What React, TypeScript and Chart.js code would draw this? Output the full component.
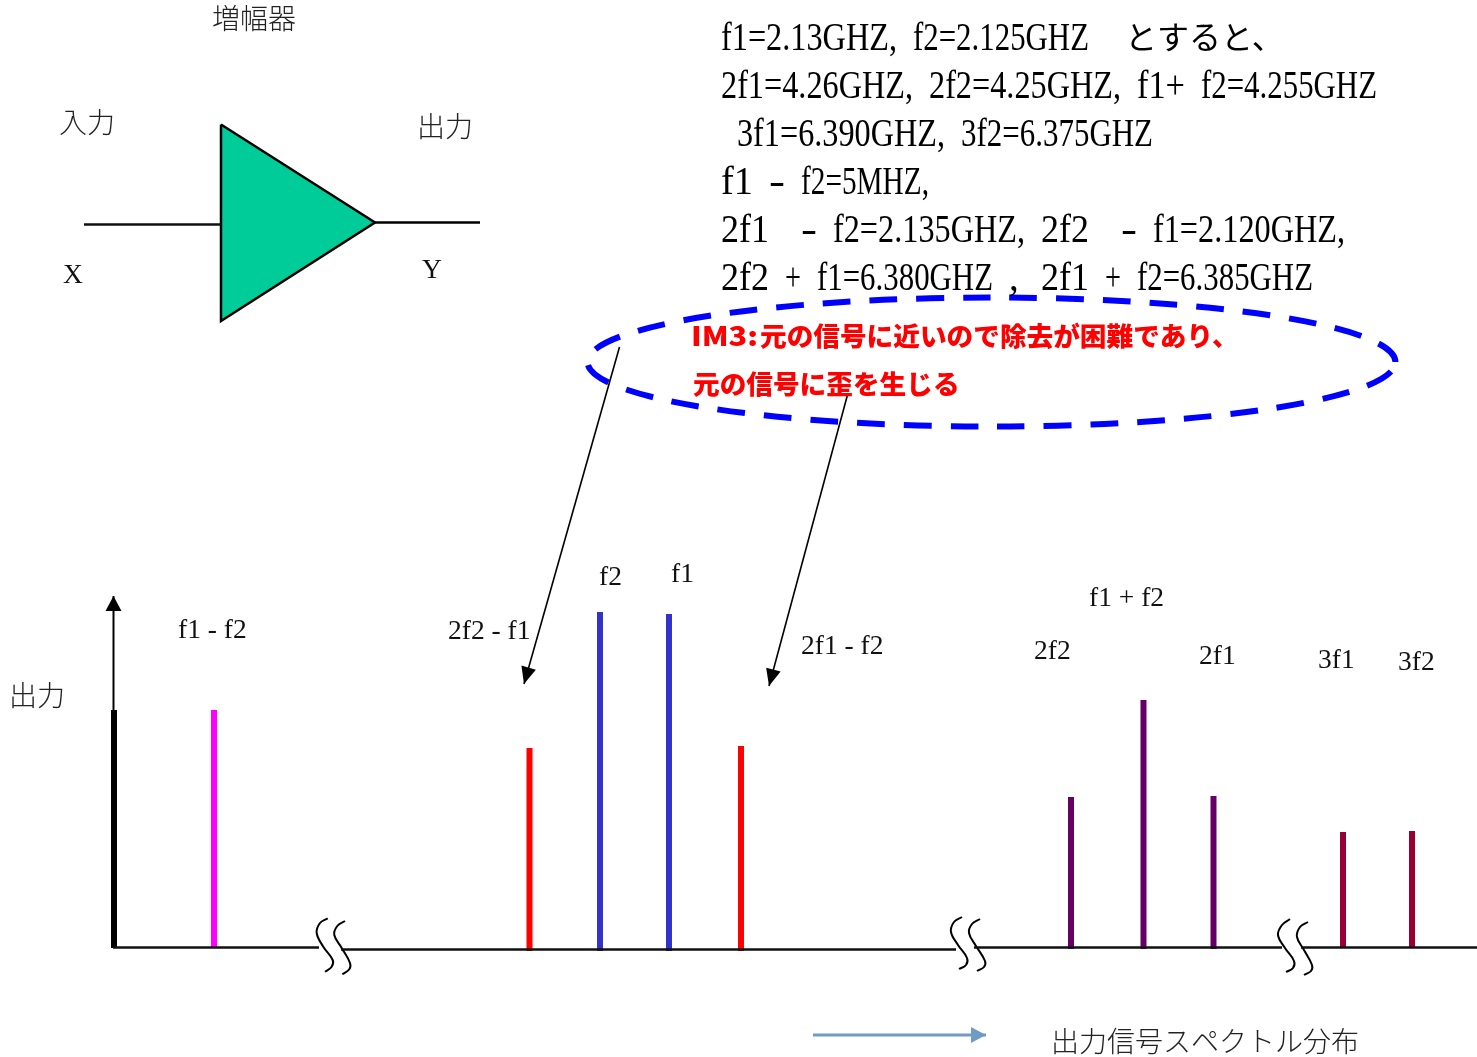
import React, { useEffect, useRef } from "react";
import { Chart, registerables } from "chart.js";

Chart.register(...registerables);

type P = { x: number; y: number };

// Spectrum stems
const spikeNames = ["origin", "f1 - f2", "2f2 - f1", "f2", "f1", "2f1 - f2", "2f2", "f1 + f2", "2f1", "3f1", "3f2"];
const spikeX = [114, 214, 529.5, 600, 669, 741, 1071, 1143.5, 1213.5, 1343, 1412];
const spikeTop = [710, 710, 748, 612, 614, 746, 797, 700, 796, 832, 831];
const spikeBase = [948, 948, 951, 951, 951, 951, 949, 949, 949, 948, 948];
const spikeColors = ["#000000", "#ff00ff", "#ff0000", "#3333cc", "#3333cc", "#ff0000", "#660066", "#660066", "#660066", "#990033", "#990033"];

// Frequency axis pieces, interrupted by the break marks
const axisPieces: P[][] = [
  [{ x: 113, y: 947.5 }, { x: 319, y: 947.5 }],
  [{ x: 341, y: 949.5 }, { x: 956, y: 949.5 }],
  [{ x: 974, y: 947.5 }, { x: 1282, y: 947.5 }],
  [{ x: 1301, y: 947.5 }, { x: 1477, y: 947.5 }],
];
const breakMarks: P[][] = [
  [{ x: 327.7, y: 918.3 }, { x: 320, y: 923 }, { x: 316.7, y: 933 }, { x: 323.3, y: 946.7 }, { x: 332.7, y: 960 }, { x: 331.7, y: 966.7 }, { x: 325, y: 971.7 }],
  [{ x: 345, y: 921 }, { x: 337.3, y: 926 }, { x: 334.3, y: 935 }, { x: 341.7, y: 948 }, { x: 350, y: 963 }, { x: 349.3, y: 969.3 }, { x: 342.3, y: 974.3 }],
  [{ x: 962, y: 917 }, { x: 954, y: 922 }, { x: 951, y: 932 }, { x: 958, y: 945 }, { x: 967, y: 958 }, { x: 966, y: 965 }, { x: 959, y: 969 }],
  [{ x: 980, y: 919 }, { x: 972, y: 924 }, { x: 969, y: 933 }, { x: 976, y: 946 }, { x: 985, y: 961 }, { x: 984, y: 967 }, { x: 977, y: 971 }],
  [{ x: 1290, y: 919 }, { x: 1282, y: 925 }, { x: 1278, y: 935 }, { x: 1285, y: 948 }, { x: 1294, y: 961 }, { x: 1293, y: 968 }, { x: 1286, y: 972 }],
  [{ x: 1308, y: 922 }, { x: 1300, y: 927 }, { x: 1297, y: 937 }, { x: 1304, y: 950 }, { x: 1312, y: 965 }, { x: 1311, y: 971 }, { x: 1304, y: 975 }],
];

// Amplifier symbol
const amplifier: P[] = [{ x: 221, y: 124.5 }, { x: 375, y: 222.5 }, { x: 221, y: 321 }, { x: 221, y: 124.5 }];
const inputWire: P[] = [{ x: 84, y: 224.5 }, { x: 221, y: 224.5 }];
const outputWire: P[] = [{ x: 375, y: 222.5 }, { x: 480, y: 222.5 }];

// Arrows: [from, tip, colour, line width, head length, head half width]
const arrows: [P, P, string, number, number, number][] = [
  [{ x: 113.5, y: 710 }, { x: 113.5, y: 596 }, "#000000", 2, 15, 8],
  [{ x: 619.5, y: 347 }, { x: 524, y: 684 }, "#000000", 1.6, 17, 7.5],
  [{ x: 848, y: 393 }, { x: 769, y: 686 }, "#000000", 1.6, 17, 7.5],
  [{ x: 813, y: 1035 }, { x: 986, y: 1035 }, "#6f9bc4", 3, 15, 8],
];

// Text
const SERIF = '"Liberation Serif"';
const CJK = '"Noto Sans CJK JP"';
const seriesLabels = ["f1 - f2", "2f2 - f1", "f2", "f1", "2f1 - f2", "f1 + f2", "2f2", "2f1", "3f1", "3f2"];
const seriesLabelPos: [number, number][] = [[178, 638], [448, 639], [599, 585], [671, 582], [801, 654], [1089, 606], [1034, 659], [1199, 664], [1318, 668], [1398, 670]];
const cjkLabels = ["増幅器", "入力", "出力", "出力", "出力信号スペクトル分布"];
const cjkLabelPos: [number, number][] = [[212, 29], [59, 133], [417, 137], [9, 706], [1051, 1052]];
const symbolLabels = ["X", "Y"];
const symbolLabelPos: [number, number][] = [[63, 283], [422, 278]];
const formulaLines = [
  "f1=2.13GHZ, f2=2.125GHZ",
  "2f1=4.26GHZ, 2f2=4.25GHZ, f1+ f2=4.255GHZ",
  " 3f1=6.390GHZ, 3f2=6.375GHZ",
  "f1 - f2=5MHZ,",
  "2f1  - f2=2.135GHZ, 2f2  - f1=2.120GHZ,",
  "2f2 + f1=6.380GHZ , 2f1 + f2=6.385GHZ",
];
const formulaTail = "とすると、";
const notePrefix = "IM3:";
const noteLines = ["元の信号に近いので除去が困難であり、", "元の信号に歪を生じる"];
const notePos: [number, number][] = [[760, 346], [693, 394]];

const line = (data: P[], color: string, width: number, extra: object = {}) => ({
  data,
  borderColor: color,
  backgroundColor: color,
  borderWidth: width,
  showLine: true,
  pointRadius: 0,
  borderCapStyle: "butt",
  ...extra,
});

const diagramPlugin = {
  id: "diagram",
  afterDatasetsDraw(chart: any) {
    const { ctx } = chart;
    const X = (v: number) => chart.scales.x.getPixelForValue(v);
    const Y = (v: number) => chart.scales.y.getPixelForValue(v);

    // Dashed ellipse
    ctx.save();
    ctx.strokeStyle = "#0000ff";
    ctx.lineWidth = 6;
    ctx.setLineDash([27.7, 19]);
    ctx.lineDashOffset = 35.7;
    ctx.beginPath();
    ctx.ellipse(X(991.5), Y(362), X(404), Y(64.5), 0, 0, Math.PI * 2);
    ctx.stroke();
    ctx.restore();

    // Arrow heads
    for (const [from, tip, color, , len, half] of arrows) {
      const a = Math.atan2(Y(tip.y) - Y(from.y), X(tip.x) - X(from.x));
      const bx = X(tip.x) - Math.cos(a) * len;
      const by = Y(tip.y) - Math.sin(a) * len;
      ctx.save();
      ctx.fillStyle = color;
      ctx.beginPath();
      ctx.moveTo(X(tip.x), Y(tip.y));
      ctx.lineTo(bx - Math.sin(a) * half, by + Math.cos(a) * half);
      ctx.lineTo(bx + Math.sin(a) * half, by - Math.cos(a) * half);
      ctx.closePath();
      ctx.fill();
      ctx.restore();
    }

    // Text
    ctx.save();
    ctx.textBaseline = "alphabetic";
    ctx.textAlign = "left";
    ctx.fillStyle = "#111111";
    ctx.font = `27.5px ${SERIF}`;
    seriesLabels.forEach((t, i) => ctx.fillText(t, X(seriesLabelPos[i][0]), Y(seriesLabelPos[i][1])));
    symbolLabels.forEach((t, i) => ctx.fillText(t, X(symbolLabelPos[i][0]), Y(symbolLabelPos[i][1])));
    ctx.fillStyle = "#222222";
    ctx.font = `300 28px ${CJK}`;
    cjkLabels.forEach((t, i) => ctx.fillText(t, X(cjkLabelPos[i][0]), Y(cjkLabelPos[i][1])));

    // Half-width formula lines: each word is fitted to its half-width character cells
    const CELL = 16;
    ctx.fillStyle = "#000000";
    ctx.font = `39px ${SERIF}`;
    formulaLines.forEach((t, i) => {
      for (const m of t.matchAll(/\S+/g)) {
        const word = m[0];
        const sx = word === "," ? 1 : (word.length * CELL) / ctx.measureText(word).width;
        ctx.save();
        ctx.translate(X(721) + m.index! * CELL, Y(50 + i * 48));
        ctx.scale(sx, 1);
        ctx.fillText(word, 0, 0);
        ctx.restore();
      }
    });
    ctx.font = `400 32px ${CJK}`;
    ctx.fillText(formulaTail, X(1125), Y(49));

    // Red note; its Latin prefix is wide in the reference
    ctx.fillStyle = "#ff0000";
    ctx.font = `900 26.67px ${CJK}`;
    const prefixScale = (X(notePos[0][0]) - X(691) - 2) / ctx.measureText(notePrefix).width;
    ctx.save();
    ctx.translate(X(691), Y(notePos[0][1]));
    ctx.scale(prefixScale, 1);
    ctx.fillText(notePrefix, 0, 0);
    ctx.restore();
    noteLines.forEach((t, i) => ctx.fillText(t, X(notePos[i][0]), Y(notePos[i][1])));
    ctx.restore();
  },
};

export default function App() {
  const ref = useRef<HTMLCanvasElement>(null);
  useEffect(() => {
    const datasets: any[] = [
      line(inputWire, "#111111", 2.5),
      line(outputWire, "#000000", 2.5),
      line(amplifier, "#000000", 2.5, { backgroundColor: "#00cc99", fill: "shape" }),
      ...axisPieces.map((p) => line(p, "#111111", 2.5)),
      ...breakMarks.map((p) => line(p, "#000000", 2, { tension: 0.4 })),
      ...arrows.map(([from, tip, color, w]) => line([from, tip], color, w)),
      ...spikeX.map((x, i) =>
        line([{ x, y: spikeBase[i] }, { x, y: spikeTop[i] }], spikeColors[i], 6, { label: spikeNames[i] })
      ),
    ];
    const chart = new Chart(ref.current!, {
      type: "scatter",
      data: { datasets },
      options: {
        animation: false,
        responsive: false,
        devicePixelRatio: 1,
        layout: { padding: 0 },
        plugins: { legend: { display: false }, tooltip: { enabled: false }, title: { display: false } },
        scales: {
          x: { type: "linear", min: 0, max: 1477, display: false },
          y: { type: "linear", min: 0, max: 1057, reverse: true, display: false },
        },
      },
      plugins: [diagramPlugin],
    } as any);
    return () => chart.destroy();
  }, []);
  return (
    <div style={{ position: "fixed", left: 0, top: 0, width: 1477, height: 1057, background: "#fff" }}>
      <canvas ref={ref} width={1477} height={1057} style={{ display: "block" }} />
    </div>
  );
}
